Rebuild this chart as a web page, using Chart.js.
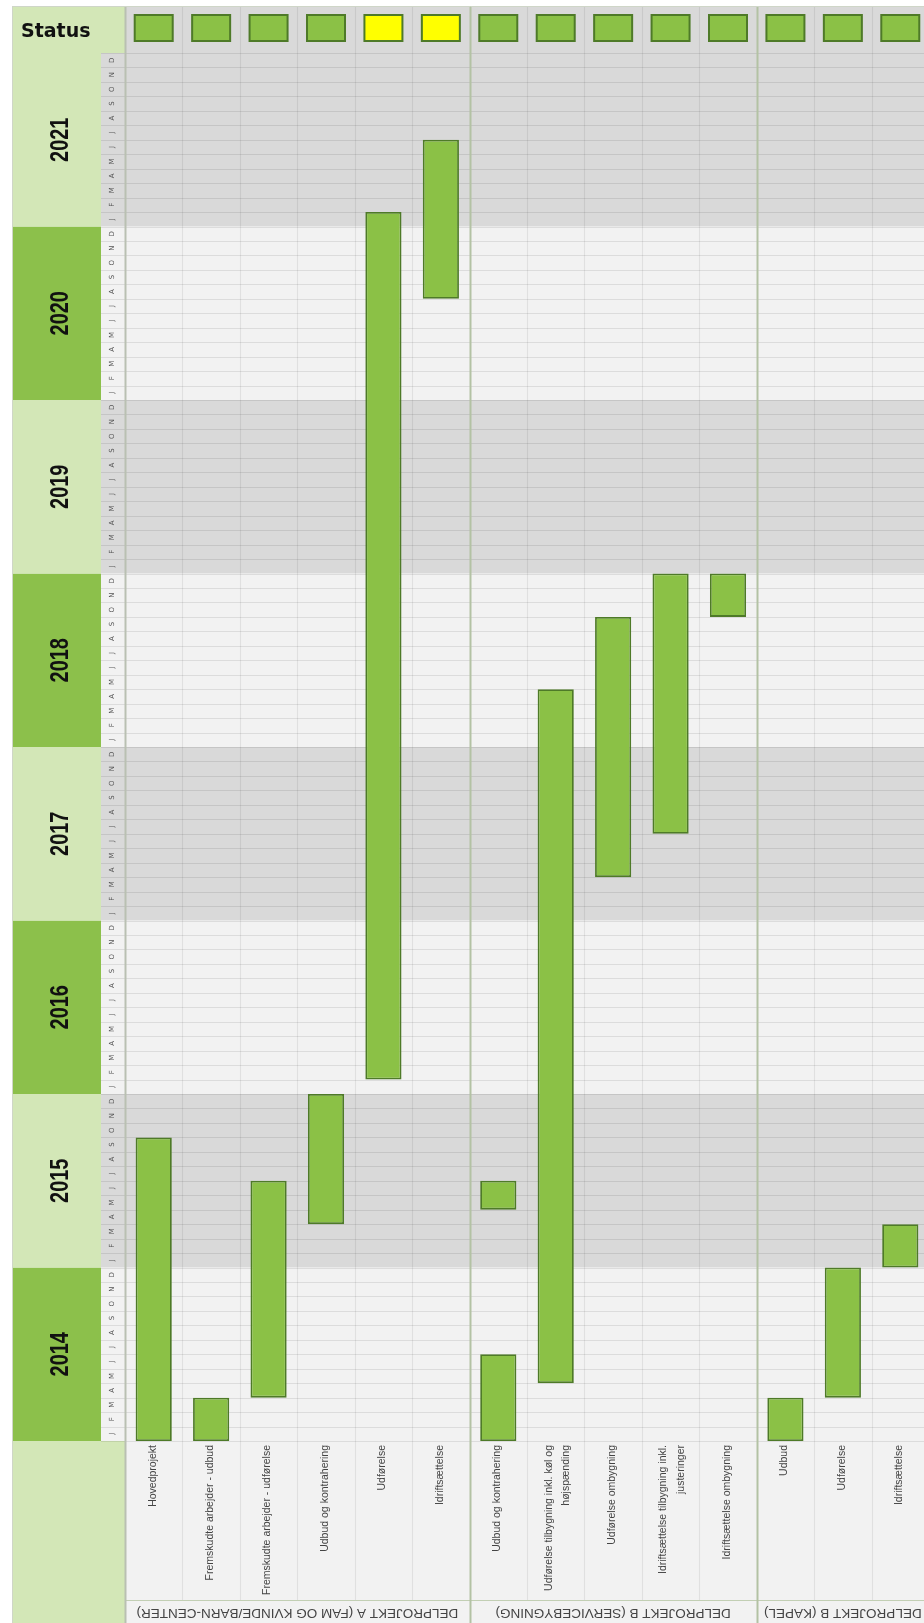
<!DOCTYPE html>
<html>
<head>
<meta charset="utf-8">
<script src="https://cdn.jsdelivr.net/npm/chart.js@4.4.1/dist/chart.umd.min.js"></script>
<style>
  html, body { margin: 0; padding: 0; background: #fff; overflow: hidden; }
  #wrap { width: 924px; height: 1623px; overflow: hidden; }
</style>
</head>
<body>
<div id="wrap"><canvas id="gantt" width="930" height="1623"></canvas></div>
<script>
// Data
const years = [2014, 2015, 2016, 2017, 2018, 2019, 2020, 2021];
const monthLetters = ['J', 'F', 'M', 'A', 'M', 'J', 'J', 'A', 'S', 'O', 'N', 'D'];

const tasks = [
    'Hovedprojekt',
    'Fremskudte arbejder - udbud',
    'Fremskudte arbejder - udførelse',
    'Udbud og kontrahering',
    'Udførelse',
    'Idriftsættelse',
    'Udbud og kontrahering',
    ['Udførelse tilbygning inkl. køl og', 'højspænding'],
    'Udførelse ombygning',
    ['Idriftsættelse tilbygning inkl.', 'justeringer'],
    'Idriftsættelse ombygning',
    'Udbud',
    'Udførelse',
    'Idriftsættelse'
];

// first and last month of each task
const periods = [
    ['2014-01', '2015-09'],
    ['2014-01', '2014-03'],
    ['2014-04', '2015-06'],
    ['2015-04', '2015-12'],
    ['2016-02', '2021-01'],
    ['2020-08', '2021-06'],
    ['2014-01', '2014-06'],
    ['2014-05', '2018-04'],
    ['2017-04', '2018-09'],
    ['2017-07', '2018-12'],
    ['2018-10', '2018-12'],
    ['2014-01', '2014-03'],
    ['2014-04', '2014-12'],
    ['2015-01', '2015-03']
];
// second period (only "Udbud og kontrahering" in delprojekt B)
const laterPeriods = [null, null, null, null, null, null, ['2015-05', '2015-06'], null, null, null, null, null, null, null];

const status = ['ok', 'ok', 'ok', 'ok', 'warn', 'warn', 'ok', 'ok', 'ok', 'ok', 'ok', 'ok', 'ok', 'ok'];

const groupNames = ['DELPROJEKT A (FAM OG KVINDE/BARN-CENTER)', 'DELPROJEKT B (SERVICEBYGNING)', 'DELPROJEKT B (KAPEL)'];
const groupFirst = [0, 6, 11];
const groupLast = [5, 10, 13];

// colours
const BAR = '#8bc146';
const BAR_EDGE = '#4e7a28';
const YELLOW = '#ffff00';
const DARK_GREEN = '#8cc04b';
const LIGHT_GREEN = '#d3e7b7';
const GRAY = '#d9d9d9';
const PALE = '#f2f2f2';

function monthIndex(s) {
    const [yy, mm] = s.split('-').map(Number);
    return (yy - years[0]) * 12 + (mm - 1);
}
const toBar = p => p ? [monthIndex(p[0]), monthIndex(p[1]) + 1] : null;

const frame = {
    id: 'ganttFrame',
    beforeDraw(chart) {
        const { ctx, chartArea: a, scales: { x, y } } = chart;
        const H = chart.height;
        const top = 6, left = 12, yearRight = 101, labelBottom = 1600;
        const colW = x.getPixelForValue(1) - x.getPixelForValue(0);
        const colLeft = i => x.getPixelForValue(i) - colW / 2;

        const line = (x1, y1, x2, y2) => {
            ctx.beginPath(); ctx.moveTo(x1, y1); ctx.lineTo(x2, y2); ctx.stroke();
        };

        ctx.save();
        ctx.fillStyle = '#fff';
        ctx.fillRect(0, 0, chart.width, H);

        // status row
        ctx.fillStyle = LIGHT_GREEN;
        ctx.fillRect(left, top, a.left - left, a.top - top);
        ctx.fillStyle = GRAY;
        ctx.fillRect(a.left, top, a.right - a.left, a.top - top);

        // year bands
        years.forEach((yr, k) => {
            const yb = y.getPixelForValue(k * 12), yt = y.getPixelForValue(k * 12 + 12);
            ctx.fillStyle = k % 2 === 0 ? DARK_GREEN : LIGHT_GREEN;
            ctx.fillRect(left, yt, yearRight - left, yb - yt);
            ctx.fillStyle = k % 2 === 0 ? PALE : GRAY;
            ctx.fillRect(yearRight, yt, a.right - yearRight, yb - yt);
        });

        // label area
        ctx.fillStyle = LIGHT_GREEN;
        ctx.fillRect(left, a.bottom, a.left - left, H - a.bottom);
        ctx.fillStyle = PALE;
        ctx.fillRect(a.left, a.bottom, a.right - a.left, H - a.bottom);

        // month lines
        ctx.strokeStyle = 'rgba(0,0,0,0.09)';
        ctx.lineWidth = 1;
        for (let m = 0; m <= years.length * 12; m++) {
            const py = Math.round(y.getPixelForValue(m)) + 0.5;
            line(yearRight, py, a.right, py);
        }

        // column lines
        for (let i = 1; i < tasks.length; i++) {
            const px = Math.round(colLeft(i)) + 0.5;
            if (groupFirst.includes(i)) continue;
            ctx.strokeStyle = 'rgba(0,0,0,0.07)';
            ctx.lineWidth = 1.2;
            line(px, top, px, labelBottom);
        }
        ctx.strokeStyle = '#c2cfb4';
        ctx.lineWidth = 1;
        line(a.left, labelBottom + 0.5, a.right, labelBottom + 0.5);
        groupFirst.forEach(i => {
            const px = Math.round(colLeft(i)) + 0.5;
            ctx.strokeStyle = i === 0 ? '#b9c0b2' : '#b3c2a4';
            ctx.lineWidth = 2;
            line(px, top, px, H);
        });

        // outer borders
        ctx.strokeStyle = '#cfd6c8';
        ctx.lineWidth = 1;
        line(left, top + 0.5, a.right, top + 0.5);
        line(left + 0.5, top, left + 0.5, H);

        // status title
        ctx.fillStyle = '#111';
        ctx.font = 'bold 19px "DejaVu Sans", sans-serif';
        ctx.textAlign = 'left';
        ctx.textBaseline = 'alphabetic';
        ctx.fillText('Status', 21, 37);

        // status squares
        status.forEach((s, i) => {
            const cx = x.getPixelForValue(i);
            ctx.fillStyle = s === 'warn' ? YELLOW : BAR;
            ctx.fillRect(cx - 19, 15, 38, 26);
            ctx.strokeStyle = BAR_EDGE;
            ctx.lineWidth = 2;
            ctx.strokeRect(cx - 19, 15, 38, 26);
        });

        // year labels and month letters
        years.forEach((yr, k) => {
            const yc = y.getPixelForValue(k * 12 + 6);
            ctx.save();
            ctx.translate(68, yc);
            ctx.rotate(-Math.PI / 2);
            ctx.scale(0.8, 1);
            ctx.fillStyle = '#111';
            ctx.font = 'bold 25px "Liberation Sans", Arial, sans-serif';
            ctx.textAlign = 'center';
            ctx.textBaseline = 'alphabetic';
            ctx.fillText(String(yr), 0, 0);
            ctx.restore();

            monthLetters.forEach((ml, m) => {
                const my = y.getPixelForValue(k * 12 + m + 0.5);
                ctx.save();
                ctx.translate(112, my);
                ctx.rotate(-Math.PI / 2);
                ctx.fillStyle = '#555';
                ctx.font = '7px "DejaVu Sans", sans-serif';
                ctx.textAlign = 'center';
                ctx.textBaseline = 'middle';
                ctx.fillText(ml, 0, 0);
                ctx.restore();
            });
        });

        // task labels
        tasks.forEach((t, i) => {
            const lines = Array.isArray(t) ? t : [t];
            const cx = x.getPixelForValue(i);
            lines.forEach((txt, j) => {
                const off = lines.length === 1 ? -1 : -7 + j * 17.5;
                ctx.save();
                ctx.translate(cx + off, a.bottom + 4);
                ctx.rotate(-Math.PI / 2);
                ctx.fillStyle = '#444';
                ctx.font = '10.5px "Liberation Sans", Arial, sans-serif';
                ctx.textAlign = 'right';
                ctx.textBaseline = 'middle';
                ctx.fillText(txt, 0, 0);
                ctx.restore();
            });
        });

        // group labels (upside down, as in the reference)
        groupNames.forEach((g, k) => {
            const cx = (colLeft(groupFirst[k]) + colLeft(groupLast[k]) + colW) / 2;
            ctx.save();
            ctx.translate(cx, 1613);
            ctx.rotate(Math.PI);
            ctx.fillStyle = '#444';
            ctx.font = '13.5px "Liberation Sans", Arial, sans-serif';
            ctx.textAlign = 'center';
            ctx.textBaseline = 'middle';
            ctx.fillText(g, 0, 0);
            ctx.restore();
        });

        ctx.restore();
    }
};

const barStyle = {
    backgroundColor: BAR,
    borderColor: BAR_EDGE,
    borderWidth: 1.8,
    borderSkipped: false,
    barPercentage: 0.63,
    categoryPercentage: 1,
    grouped: false
};

new Chart(document.getElementById('gantt'), {
    type: 'bar',
    data: {
        labels: tasks,
        datasets: [
            Object.assign({ label: 'Periode', data: periods.map(toBar) }, barStyle),
            Object.assign({ label: 'Periode 2', data: laterPeriods.map(toBar) }, barStyle)
        ]
    },
    options: {
        responsive: false,
        animation: false,
        layout: { padding: { top: 53, left: 125, right: 1, bottom: 182 } },
        plugins: { legend: { display: false }, tooltip: { enabled: false } },
        scales: {
            x: { type: 'category', display: false, offset: true },
            y: { type: 'linear', display: false, min: 0, max: years.length * 12 }
        }
    },
    plugins: [frame]
});
</script>
</body>
</html>
